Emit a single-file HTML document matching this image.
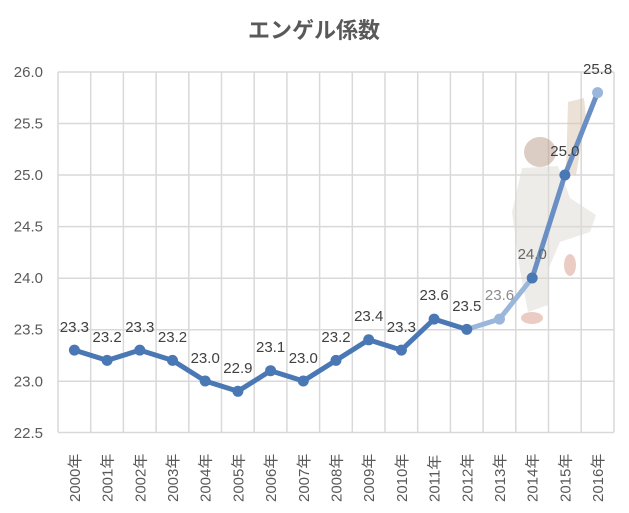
<!DOCTYPE html>
<html><head><meta charset="utf-8"><style>
body{margin:0;background:#fff}
svg text{font-family:"Liberation Sans","Noto Sans CJK JP",sans-serif}
</style></head><body>
<svg width="629" height="508" viewBox="0 0 629 508" xmlns="http://www.w3.org/2000/svg">
<rect width="629" height="508" fill="#fff"/>
<text x="314" y="38" text-anchor="middle" font-size="22" font-weight="bold" fill="#595959">エンゲル係数</text>
<g stroke="#d9d9d9" stroke-width="1.5" fill="none">
<path d="M58 72H614M58 123.5H614M58 175H614M58 226.6H614M58 278.2H614M58 329.7H614M58 381.3H614M58 432.5H614"/>
<path d="M58 72V432M90.7 72V432M123.4 72V432M156.1 72V432M188.8 72V432M221.5 72V432M254.2 72V432M286.9 72V432M319.6 72V432M352.3 72V432M385 72V432M417.7 72V432M450.4 72V432M483.1 72V432M515.8 72V432M548.5 72V432M581.2 72V432M614 72V432"/>
</g>
<g font-size="15" fill="#595959" text-anchor="end">
<text x="43" y="77">26.0</text><text x="43" y="128.5">25.5</text><text x="43" y="180">25.0</text><text x="43" y="231.6">24.5</text><text x="43" y="283.2">24.0</text><text x="43" y="334.7">23.5</text><text x="43" y="386.3">23.0</text><text x="43" y="437.8">22.5</text>
</g>
<g font-size="15" fill="#595959">
<text transform="translate(79.9 502) rotate(-90)">2000年</text>
<text transform="translate(112.6 502) rotate(-90)">2001年</text>
<text transform="translate(145.3 502) rotate(-90)">2002年</text>
<text transform="translate(178 502) rotate(-90)">2003年</text>
<text transform="translate(210.7 502) rotate(-90)">2004年</text>
<text transform="translate(243.4 502) rotate(-90)">2005年</text>
<text transform="translate(276.1 502) rotate(-90)">2006年</text>
<text transform="translate(308.8 502) rotate(-90)">2007年</text>
<text transform="translate(341.5 502) rotate(-90)">2008年</text>
<text transform="translate(374.2 502) rotate(-90)">2009年</text>
<text transform="translate(406.9 502) rotate(-90)">2010年</text>
<text transform="translate(439.6 502) rotate(-90)">2011年</text>
<text transform="translate(472.3 502) rotate(-90)">2012年</text>
<text transform="translate(505 502) rotate(-90)">2013年</text>
<text transform="translate(537.7 502) rotate(-90)">2014年</text>
<text transform="translate(570.4 502) rotate(-90)">2015年</text>
<text transform="translate(603.1 502) rotate(-90)">2016年</text>
</g>
<!-- faint figure -->
<g opacity="0.5">
<ellipse cx="540" cy="152" rx="16" ry="15" fill="#b89a8a"/>
<path d="M522 168 L558 166 L570 198 L596 215 L590 232 L560 242 L548 270 L548 305 L528 312 L520 270 L512 212 Z" fill="#dedad4"/>
<path d="M568 102 L584 98 L586 118 L576 175 L566 172 Z" fill="#d8c4b0"/>
<ellipse cx="532" cy="318" rx="11" ry="6" fill="#d89a8a"/>
<ellipse cx="570" cy="265" rx="6" ry="11" fill="#d89a8a"/>
</g>
<polyline fill="none" stroke="#4a78b5" stroke-width="5" stroke-linejoin="round" points="74.4,350.1 107.1,360.4 139.8,350.1 172.5,360.4 205.2,381 237.9,391.3 270.6,370.7 303.3,381 336,360.4 368.7,339.8 401.4,350.1 434.1,319.1 466.8,329.4"/>
<polyline fill="none" stroke="#9ab6db" stroke-width="5" stroke-linejoin="round" points="466.8,329.4 499.5,319.1 532.2,278"/>
<polyline fill="none" stroke="#6a8fc4" stroke-width="5" stroke-linejoin="round" points="532.2,278 564.9,175 597.6,92.6"/>
<g fill="#4a78b5">
<circle cx="74.4" cy="350.1" r="5.5"/><circle cx="107.1" cy="360.4" r="5.5"/><circle cx="139.8" cy="350.1" r="5.5"/><circle cx="172.5" cy="360.4" r="5.5"/><circle cx="205.2" cy="381" r="5.5"/><circle cx="237.9" cy="391.3" r="5.5"/><circle cx="270.6" cy="370.7" r="5.5"/><circle cx="303.3" cy="381" r="5.5"/><circle cx="336" cy="360.4" r="5.5"/><circle cx="368.7" cy="339.8" r="5.5"/><circle cx="401.4" cy="350.1" r="5.5"/><circle cx="434.1" cy="319.1" r="5.5"/><circle cx="466.8" cy="329.4" r="5.5"/><circle cx="532.2" cy="278" r="5.5"/><circle cx="564.9" cy="175" r="5.5"/>
</g>
<g fill="#9ab6db"><circle cx="499.5" cy="319.1" r="5.5"/><circle cx="597.6" cy="92.6" r="5.5"/></g>
<g font-size="15" fill="#404040" text-anchor="middle">
<text x="74.4" y="332">23.3</text><text x="107.1" y="342">23.2</text><text x="139.8" y="332">23.3</text><text x="172.5" y="342">23.2</text><text x="205.2" y="363">23.0</text><text x="237.9" y="373">22.9</text><text x="270.6" y="352">23.1</text><text x="303.3" y="363">23.0</text><text x="336" y="342">23.2</text><text x="368.7" y="321">23.4</text><text x="401.4" y="332">23.3</text><text x="434.1" y="300">23.6</text><text x="466.8" y="311">23.5</text>
<text x="499.5" y="300" fill="#8c8c8c">23.6</text><text x="532.2" y="259" fill="#666">24.0</text><text x="564.9" y="156">25.0</text><text x="597.6" y="74">25.8</text>
</g>
</svg>
</body></html>
